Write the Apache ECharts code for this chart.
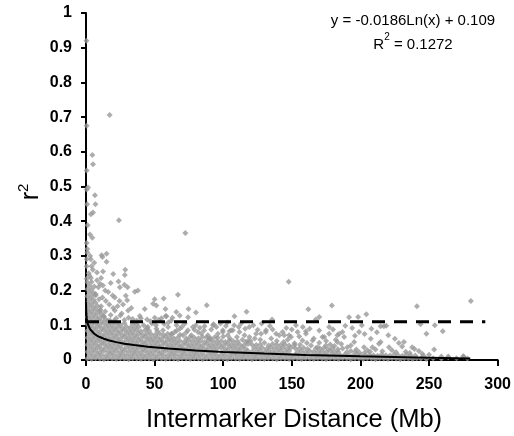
<!DOCTYPE html>
<html><head><meta charset="utf-8">
<script src="https://cdn.jsdelivr.net/npm/echarts@6/dist/echarts.min.js"></script>
<style>html,body{margin:0;padding:0;background:#fff}#c{width:514px;height:436px}</style>
</head><body><div id="c"></div>
<script>
const FONT = 'Liberation Sans, Arial, sans-serif';
const xTickLabels = ['0','50','100','150','200','250','300'];
const yTickLabels = ['0','0.1','0.2','0.3','0.4','0.5','0.6','0.7','0.8','0.9','1'];
const xTitle = 'Intermarker Distance (Mb)';
const equationText = 'y = -0.0186Ln(x) + 0.109';
const r2Value = '0.1272';

// trend line y = -0.0186 ln(x) + 0.109 (values typed)
const trendX = [0.04,0.07,0.12,0.2,0.35,0.6,1,1.5,2,3,4,6,8,10,13,17,22,28,35,45,60,80,100,130,160,200,240,280];
const trendY = [0.1689,0.1585,0.1484,0.1389,0.1285,0.1185,0.109,0.1015,0.0961,0.0886,0.0832,0.0757,0.0703,0.0662,0.0613,0.0563,0.0515,0.0470,0.0429,0.0382,0.0329,0.0275,0.0233,0.0185,0.0146,0.0105,0.0071,0.0042];
const thresholdX = [0, 291];
const thresholdY = [0.11, 0.11];

// point cloud
const bandA = [[1,.004],[4,.003],[7,.005],[10,.004],[13,.002],[16,.005],[19,.004],[22,.003],[25,.005],[28,.004],[31,.002],[34,.005],[37,.004],[40,.003],[43,.005],[46,.004],[49,.002],[52,.005],[55,.004],[58,.003],[61,.005],[64,.004],[67,.002],[70,.005],[73,.004],[76,.003],[79,.005],[82,.004],[85,.002],[88,.005],[91,.004],[94,.003],[97,.005],[100,.004],[103,.002],[106,.005],[109,.004],[112,.003],[115,.005],[118,.004],[121,.002],[124,.005],[127,.004],[130,.003],[133,.005],[136,.004],[139,.002],[142,.005],[145,.004],[148,.003],[151,.005],[154,.004],[157,.002],[160,.005],[163,.004],[166,.003],[169,.005],[172,.004],[175,.002],[178,.005],[181,.004],[184,.003],[187,.005],[190,.004],[193,.002],[196,.005],[199,.004],[202,.003],[205,.005],[208,.004],[211,.002],[214,.005],[217,.004],[220,.003],[223,.005],[226,.004],[229,.002],[232,.005],[235,.004],[238,.003],[241,.005],[244,.004],[248,.003],[253,.005],[259,.004],[264,.008],[270,.005],[275,.01],[278,.004]];
const bandB = [[2.5,.014],[5.5,.013],[8.5,.015],[11.5,.014],[14.5,.012],[17.5,.016],[20.5,.014],[23.5,.013],[26.5,.015],[29.5,.014],[32.5,.012],[35.5,.016],[38.5,.014],[41.5,.013],[44.5,.015],[47.5,.014],[50.5,.012],[53.5,.016],[56.5,.014],[59.5,.013],[62.5,.015],[65.5,.014],[68.5,.012],[71.5,.016],[74.5,.014],[77.5,.013],[80.5,.015],[83.5,.014],[86.5,.012],[89.5,.016],[92.5,.014],[95.5,.013],[98.5,.015],[101.5,.014],[104.5,.012],[107.5,.016],[110.5,.014],[113.5,.013],[116.5,.015],[119.5,.014],[122.5,.012],[125.5,.016],[128.5,.014],[131.5,.013],[134.5,.015],[137.5,.014],[140.5,.012],[143.5,.016],[146.5,.014],[149.5,.013],[152.5,.015],[155.5,.014],[158.5,.012],[161.5,.016],[164.5,.014],[167.5,.013],[170.5,.015],[173.5,.014],[176.5,.012],[179.5,.016],[182.5,.014],[185.5,.013],[188.5,.015],[191.5,.014],[194.5,.012],[197.5,.016],[200.5,.014],[203.5,.013],[206.5,.015],[209.5,.014],[212.5,.012],[215.5,.016],[218.5,.014],[221.5,.013],[224.5,.015],[227.5,.014],[230.5,.012],[233.5,.016],[236.5,.014],[240,.013],[246,.012]];
const bandC = [[1,.024],[4,.023],[7,.025],[10,.022],[13,.026],[16,.024],[19,.023],[22,.025],[25,.022],[28,.026],[31,.024],[34,.023],[37,.025],[40,.022],[43,.026],[46,.024],[49,.023],[52,.025],[55,.022],[58,.026],[61,.024],[64,.023],[67,.025],[70,.022],[73,.026],[76,.024],[79,.023],[82,.025],[85,.022],[88,.026],[91,.024],[94,.023],[100,.022],[103,.026],[106,.024],[109,.023],[112,.025],[115,.022],[118,.026],[121,.024],[124,.023],[127,.025],[130,.022],[133,.026],[136,.024],[139,.023],[142,.025],[145,.022],[148,.026],[154,.023],[157,.025],[160,.022],[163,.026],[166,.024],[169,.023],[172,.025],[175,.022],[178,.026],[181,.024],[184,.023],[190,.022],[193,.026],[196,.023],[199,.022],[203,.021],[207,.024]];
const bandD = [[2.5,.034],[5.5,.033],[8.5,.035],[11.5,.032],[14.5,.036],[17.5,.034],[20.5,.033],[23.5,.035],[26.5,.032],[29.5,.036],[32.5,.034],[35.5,.033],[38.5,.035],[41.5,.032],[44.5,.036],[47.5,.034],[50.5,.033],[53.5,.035],[56.5,.032],[59.5,.036],[62.5,.034],[65.5,.033],[68.5,.035],[71.5,.032],[74.5,.036],[77.5,.034],[80.5,.033],[83.5,.035],[86.5,.032],[89.5,.036],[92.5,.034],[95.5,.033],[98.5,.035],[101.5,.032],[104.5,.036],[107.5,.034],[110.5,.033],[113.5,.035],[116.5,.032],[122.5,.034],[125.5,.033],[128.5,.035],[131.5,.032],[134.5,.036],[137.5,.034],[140.5,.033],[143.5,.035],[146.5,.032],[149.5,.036],[152.5,.034],[155.5,.033],[158.5,.035],[161.5,.032],[167.5,.034],[170.5,.033],[173.5,.035],[176.5,.032],[179.5,.034],[183.5,.031],[187,.033]];
const bandE = [[1,.044],[4,.043],[7,.045],[10,.042],[13,.046],[16,.044],[19,.043],[22,.045],[25,.042],[28,.046],[31,.044],[34,.043],[37,.045],[40,.042],[43,.046],[46,.044],[49,.043],[52,.045],[55,.042],[58,.046],[61,.044],[64,.043],[67,.045],[70,.042],[73,.046],[76,.044],[79,.043],[82,.045],[85,.042],[88,.046],[91,.044],[94,.043],[97,.045],[100,.042],[103,.046],[106,.044],[109,.043],[112,.045],[115,.042],[118,.046],[121,.044],[124,.043],[127,.045],[133,.042],[136,.046],[139,.044],[142,.043],[145,.045],[148,.042],[152,.043]];
const bandF = [[2.5,.054],[5.5,.053],[8.5,.055],[11.5,.052],[14.5,.056],[17.5,.054],[20.5,.053],[23.5,.055],[26.5,.052],[29.5,.056],[32.5,.054],[35.5,.053],[38.5,.055],[41.5,.052],[44.5,.056],[47.5,.054],[50.5,.053],[53.5,.055],[56.5,.052],[59.5,.056],[62.5,.054],[65.5,.053],[68.5,.055],[71.5,.052],[74.5,.056],[77.5,.054],[80.5,.053],[83.5,.055],[86.5,.052],[89.5,.056],[92.5,.054],[95.5,.053],[98.5,.055],[101.5,.052],[104.5,.056],[107.5,.054],[110.5,.053],[116.5,.052],[120,.055]];
const bandG = [[1,.064],[4,.063],[7,.065],[10,.062],[13,.066],[16,.064],[19,.063],[22,.065],[25,.062],[28,.066],[31,.064],[34,.063],[37,.065],[40,.062],[43,.066],[46,.064],[49,.063],[52,.065],[55,.062],[58,.066],[61,.064],[64,.063],[67,.065],[73,.062],[76,.066],[79,.064],[82,.063],[88,.065],[91,.062],[96,.064]];
const bandH = [[2.5,.074],[5.5,.073],[8.5,.075],[11.5,.072],[14.5,.076],[17.5,.074],[20.5,.073],[23.5,.075],[26.5,.072],[29.5,.076],[32.5,.074],[35.5,.073],[38.5,.075],[41.5,.072],[44.5,.076],[47.5,.074],[50.5,.073],[56.5,.072],[59.5,.076],[62.5,.074],[68.5,.073]];
const bandI = [[1,.084],[4,.083],[7,.085],[10,.082],[13,.086],[16,.084],[19,.083],[22,.085],[25,.082],[28,.086],[31,.084],[34,.083],[37,.085],[40,.082],[43,.086],[46,.084],[52,.083]];
const bandJ = [[2.5,.094],[5.5,.093],[8.5,.095],[11.5,.092],[14.5,.096],[17.5,.094],[20.5,.093],[23.5,.095],[26.5,.092],[29.5,.096],[32.5,.094],[35.5,.093],[38.5,.095],[44.5,.092]];
const bandK = [[1,.104],[4,.103],[7,.105],[10,.102],[13,.106],[16,.104],[19,.103],[22,.105],[25,.102],[28,.106],[34,.104],[37,.103]];
const nearAxis = [[2.5,.114],[5.5,.113],[8.5,.115],[11.5,.112],[14.5,.116],[17.5,.114],[20.5,.113],[1,.124],[4,.123],[7,.125],[10,.122],[13,.126],[2.5,.134],[5.5,.133],[8.5,.135],[11.5,.132],[1,.144],[4,.143],[7,.145],[10,.142],[2.5,.154],[5.5,.153],[8.5,.155],[1,.164],[4,.163],[7,.165],[2.5,.174],[5.5,.173],[1,.184],[4,.183],[7,.186],[2.5,.194],[5.5,.193],[1,.204],[4,.203],[2.5,.214],[6,.212],[1,.224],[4,.225],[0.5,.234],[2.5,.243]];
const highOutliers = [[0.3,.92],[17.2,.706],[0.5,.675],[4.6,.591],[5.1,.564],[0.5,.546],[0.5,.491],[1.5,.497],[6.5,.475],[0.8,.449],[6.9,.449],[5.1,.425],[3.6,.42],[24,.403],[1.2,.388],[4.6,.352],[2.9,.362],[0.5,.337],[1,.32],[72.4,.366],[12,.297],[11.4,.302],[15,.306],[15,.283],[3,.3],[3.5,.29],[4,.27],[5,.26],[12.4,.255],[19.8,.248],[28.6,.26],[28.3,.245],[0.5,.29],[0.5,.27],[2,.25],[1,.31],[6,.28],[8,.252]];
const midScatter = [[3.6,.236],[11,.236],[23.7,.226],[18,.222],[10.2,.22],[12.3,.215],[28,.217],[24.7,.21],[30.3,.21],[16.2,.196],[19.4,.186],[21,.18],[35.6,.197],[37.8,.2],[30,.172],[50,.175],[56.6,.177],[67,.188],[24.4,.17],[17,.16],[14,.2],[8,.23],[9,.21],[7,.19],[9.5,.175],[12,.18],[14.5,.17],[11,.155],[27,.16],[48.9,.162],[51.3,.157],[88,.158],[147.7,.2256],[179.2,.157],[241.2,.155],[280.5,.17]];
const lowScatter = [[42.8,.147],[57.9,.147],[74.7,.147],[19.8,.15],[21,.143],[26,.134],[30.7,.143],[39.2,.127],[44.5,.117],[50.1,.122],[55,.12],[58.6,.126],[63,.122],[68.3,.128],[74.4,.123],[65.8,.138],[80.1,.137],[58.1,.127],[108.2,.126],[117,.139],[135.6,.117],[162,.146],[170,.124],[191.7,.123],[198.3,.124],[204.3,.132],[167.5,.117],[13,.125],[16,.113],[18,.13],[22,.12],[25,.128],[28,.115],[31,.122],[34,.118],[37,.113],[40,.12],[14,.14],[33,.15],[23,.155],[29,.185],[10.5,.145],[47,.112],[53,.115],[62,.113]];
const tailScatter = [[51.3,.09],[53.7,.076],[56.1,.086],[59.8,.095],[62.2,.076],[64.6,.081],[68.3,.09],[70.7,.071],[74.3,.086],[76.8,.071],[81.6,.081],[84,.076],[88.8,.071],[91.3,.088],[96.1,.076],[99.7,.081],[103.3,.071],[107,.086],[93,.103],[77.9,.095],[86.4,.097],[92.5,.1],[99.7,.0855],[104.6,.083],[111.3,.095],[111.8,.081],[119,.095],[124,.076],[131,.081],[138.5,.076],[143.3,.081],[148,.071],[155.4,.068],[160.3,.083],[172.3,.066],[177.2,.076],[183.2,.071],[186.9,.081],[153,.1],[189,.099],[105.8,.0855],[115.5,.071],[119.1,.066],[125.1,.0875],[127.6,.076],[131.2,.0855],[140.9,.071],[144.5,.071],[149.4,.066],[154.2,.081],[157.8,.0565],[160.3,.076],[165.1,.0565],[168.7,.037],[173.6,.066],[174.8,.042],[177.2,.095],[183.2,.052],[184.5,.076],[188.1,.066],[190.5,.037],[195.4,.052],[199,.081],[202.6,.037],[207.5,.061],[208.7,.037],[213.5,.047],[217.1,.097],[214.7,.097],[218.8,.099],[243.8,.103],[254.2,.1],[248.1,.076],[260,.083],[220.3,.071],[225.1,.061],[214.7,.052],[228,.049],[231.7,.052],[230.4,.039],[220.8,.037],[237.7,.037],[239.4,.032],[242.6,.026],[253.7,.03],[259,.01],[264,.01],[275,.011],[42,.1],[45,.095],[48,.105],[51,.1],[57,.104],[60,.108],[66,.1],[70,.096],[72,.105],[80,.1],[83,.093],[86,.085],[95,.095],[98,.105],[102,.098],[66,.084],[73,.079],[79,.087],[85,.066],[90,.062],[94,.066],[100,.068],[105,.062],[110,.066],[114,.058],[118,.055],[123,.062],[127,.058],[130,.05],[135,.062],[139,.055],[144,.052],[147,.058],[152,.048],[156,.044],[161,.049],[164,.042],[170,.05],[178,.045],[181,.04],[186,.046],[193,.042],[197,.03],[205,.028],[211,.03],[216,.025],[223,.028],[226,.022],[233,.024],[236,.02],[245,.018],[250,.015],[113,.105],[122,.1],[128,.105],[134,.098],[146,.092],[150,.088],[158,.095],[163,.09],[170,.085],[180,.088],[194,.092],[201,.1],[208,.09],[212,.08],[196,.07],[203,.075],[182,.058],[175,.055],[166,.062],[136,.088],[116,.09],[108,.1],[103,.108]];

const points = [].concat(bandA,bandB,bandC,bandD,bandE,bandF,bandG,bandH,bandI,bandJ,bandK,nearAxis,highOutliers,midScatter,lowScatter,tailScatter);

const chart = echarts.init(document.getElementById('c'), null, {renderer:'canvas'});
const axisCommon = {
  axisLine:{show:true,onZero:false,lineStyle:{color:'#000',width:2}},
  splitLine:{show:false},
};
chart.setOption({
  animation:false,
  backgroundColor:'#fff',
  grid:{left:86,right:15,top:13,bottom:76},
  xAxis:Object.assign({type:'value',min:0,max:300,interval:50,
    axisTick:{show:true,length:6,lineStyle:{color:'#000',width:2}},
    axisLabel:{margin:17,color:'#000',fontSize:16,fontWeight:'bold',fontFamily:FONT,
      formatter:v=>xTickLabels[Math.round(v/50)]}},axisCommon),
  yAxis:Object.assign({type:'value',min:0,max:1,interval:0.1,
    axisTick:{show:true,length:5,lineStyle:{color:'#000',width:2}},
    axisLabel:{margin:14,color:'#000',fontSize:16,fontWeight:'bold',fontFamily:FONT,
      formatter:v=>yTickLabels[Math.round(v*10)]}},axisCommon),
  series:[
    {type:'scatter',data:points,symbol:'diamond',symbolSize:6,silent:true,
     itemStyle:{color:'#999999'},z:2},
    {type:'line',data:trendX.map((x,i)=>[x,trendY[i]]),showSymbol:false,silent:true,
     lineStyle:{color:'#000',width:2},z:3},
    {type:'line',data:thresholdX.map((x,i)=>[x,thresholdY[i]]),showSymbol:false,silent:true,
     lineStyle:{color:'#000',width:3,type:[13,9]},z:4}
  ],
  graphic:[
    {type:'text',x:294,y:420,style:{text:xTitle,fill:'#000',font:'25.5px '+FONT,align:'center',verticalAlign:'middle',textAlign:'center',textVerticalAlign:'middle'}},
    {type:'text',x:30,y:192,rotation:Math.PI/2,style:{text:'{a|r}{s|2}',fill:'#000',align:'center',verticalAlign:'middle',textAlign:'center',textVerticalAlign:'middle',
      rich:{a:{fontSize:25,fontFamily:FONT,lineHeight:28,verticalAlign:'bottom',fill:'#000'},s:{fontSize:15,fontFamily:FONT,lineHeight:14,verticalAlign:'top',fill:'#000'}}}},
    {type:'text',x:413,y:21,style:{text:equationText,fill:'#000',font:'15px '+FONT,align:'center',verticalAlign:'middle',textAlign:'center',textVerticalAlign:'middle'}},
    {type:'text',x:413,y:42,style:{text:'{a|R}{s|2}{a| = '+r2Value+'}',fill:'#000',align:'center',verticalAlign:'middle',textAlign:'center',textVerticalAlign:'middle',
      rich:{a:{fontSize:15,fontFamily:FONT,lineHeight:20,verticalAlign:'bottom',fill:'#000'},s:{fontSize:10,fontFamily:FONT,lineHeight:12,verticalAlign:'top',fill:'#000'}}}}
  ]
});
</script></body></html>
